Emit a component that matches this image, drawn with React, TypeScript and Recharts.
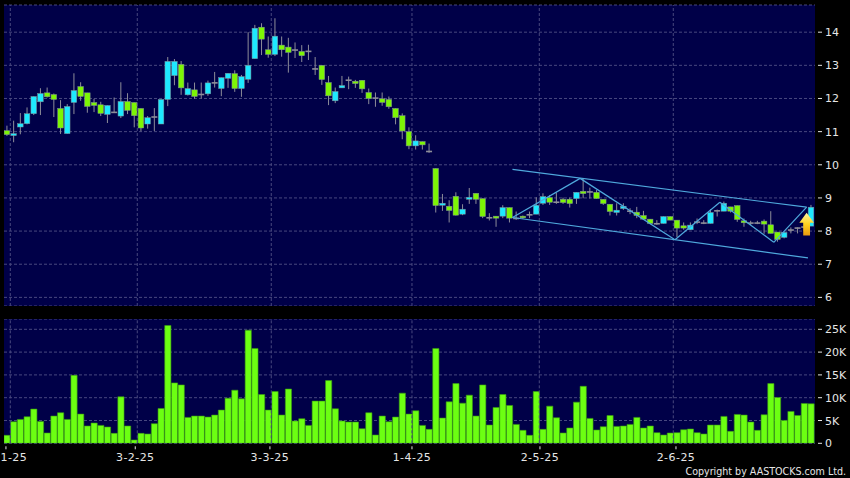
import { Bar, BarChart, CartesianGrid, ComposedChart, ReferenceDot, ReferenceLine, XAxis, YAxis } from "recharts";

const opens = [11.03,10.88,11.14,11.24,11.54,11.9,12.17,12.12,11.7,10.94,11.88,12.36,12.17,11.88,11.81,11.52,11.59,11.47,11.91,11.88,11.7,11.23,11.44,11.23,11.97,12.69,13.03,12.11,12.26,12.12,12.14,12.47,12.3,12.61,12.75,12.3,12.58,13.2,14.15,13.47,13.33,13.61,13.55,13.47,13.42,13.43,12.9,13.0,12.48,11.93,12.32,12.56,12.52,12.55,12.18,12.02,11.99,11.97,11.7,11.48,11.0,10.57,10.7,10.41,9.89,8.78,8.75,9.05,8.51,8.96,9.14,8.98,8.41,8.45,8.45,8.71,8.39,8.45,8.5,8.51,8.84,9.01,8.88,8.96,8.96,8.98,9.2,9.19,9.17,8.96,8.81,8.56,8.68,8.61,8.57,8.47,8.36,8.23,8.23,8.44,8.33,8.16,8.04,8.28,8.25,8.23,8.62,8.6,8.73,8.77,8.31,8.25,8.25,8.3,8.19,7.97,7.81,8.0,8.1,8.13,8.15];
const closes = [10.91,10.94,11.24,11.54,12.06,12.15,12.05,11.97,11.11,11.76,12.24,12.06,11.76,11.79,11.55,11.79,11.57,11.91,11.64,11.48,11.11,11.42,11.45,11.97,13.12,13.12,12.32,12.3,12.06,12.13,12.47,12.48,12.63,12.76,12.3,12.66,13.0,14.12,13.79,13.33,13.88,13.47,13.39,13.46,13.29,13.42,12.89,12.57,12.08,12.21,12.39,12.55,12.45,12.29,12.0,12.01,11.88,11.75,11.42,11.02,10.57,10.72,10.6,10.4,8.77,8.84,8.62,8.48,8.66,9.02,8.96,8.44,8.4,8.39,8.71,8.39,8.38,8.4,8.49,8.78,9.04,8.87,8.87,8.86,8.83,9.17,9.13,9.18,8.98,8.83,8.59,8.63,8.75,8.6,8.47,8.36,8.23,8.22,8.44,8.33,8.09,8.09,8.18,8.24,8.24,8.56,8.61,8.84,8.6,8.35,8.25,8.24,8.24,8.21,7.93,7.75,7.96,8.04,8.09,8.12,8.72];
const highs = [11.18,11.33,11.56,11.73,12.06,12.31,12.33,12.15,11.95,11.83,12.76,12.49,12.17,11.99,11.9,11.79,12.03,12.49,12.16,11.88,11.7,11.47,11.71,11.97,13.25,13.19,13.13,12.48,12.48,12.48,12.54,12.8,12.63,12.76,12.85,12.71,14.0,14.22,14.27,13.87,14.42,13.87,13.83,13.69,13.61,13.62,13.25,13.0,12.68,12.33,12.68,12.66,12.56,12.55,12.3,12.18,12.18,12.06,11.7,11.55,11.13,10.89,10.7,10.64,9.89,9.12,8.93,9.17,8.81,9.3,9.14,8.98,8.54,8.45,8.78,8.71,8.59,8.47,8.59,9.02,9.14,9.09,9.16,9.01,9.01,9.17,9.59,9.31,9.24,8.96,8.81,8.84,8.84,8.69,8.73,8.61,8.36,8.33,8.44,8.44,8.33,8.26,8.26,8.38,8.33,8.66,8.65,8.89,8.73,8.77,8.38,8.31,8.31,8.35,8.6,7.97,7.96,8.11,8.11,8.3,8.79];
const lows = [10.87,10.68,10.92,11.22,11.5,11.5,12.03,11.44,10.93,10.94,11.53,11.93,11.57,11.59,11.47,11.26,11.56,11.41,11.53,11.13,11.01,11.09,11.02,11.23,11.77,12.4,12.11,12.09,11.99,12.0,12.08,12.33,12.07,12.32,12.2,12.05,12.47,13.2,13.31,13.23,13.28,13.26,12.78,13.22,13.1,13.16,12.71,12.41,11.8,11.86,12.32,12.28,12.32,12.17,11.83,11.75,11.78,11.69,11.22,10.77,10.47,10.46,10.46,10.36,8.56,8.61,8.26,8.47,8.48,8.82,8.82,8.39,8.32,8.13,8.39,8.26,8.34,8.37,8.39,8.51,8.79,8.79,8.82,8.82,8.71,8.82,8.99,8.98,8.98,8.79,8.47,8.47,8.64,8.51,8.39,8.34,8.21,8.19,8.23,8.33,7.82,8.04,8.03,8.21,8.21,8.23,8.44,8.6,8.56,8.28,8.13,8.18,8.21,7.92,7.93,7.68,7.78,7.93,7.93,8.0,8.15];
const volumes = [1750,4730,5240,5820,7500,4800,2260,5970,6700,5240,14900,6400,3790,4440,3930,3570,2180,10200,3790,730,2180,2040,4300,7640,25840,13250,12800,5680,5970,5970,5750,6190,7280,9900,11650,9750,24800,20800,10700,7280,11350,6190,11900,4880,5390,3930,9250,9250,13760,7570,4880,4660,4660,3200,6700,1820,5970,4730,5750,11000,6400,7130,3930,3060,20800,5530,9100,13100,8800,10560,5970,12800,4000,7860,10700,8300,4150,2840,1750,11350,3060,8150,5600,2260,3350,9030,12500,5460,2910,3640,6100,3710,3790,4150,5680,3350,3790,2330,1820,2260,2330,2980,3130,2330,2040,4000,4000,5900,2620,6330,6190,4660,2840,6260,13100,10050,5020,6990,6100,8740,8660];

const dateLabels = ["1-25", "3-2-25", "3-3-25", "1-4-25", "2-5-25", "2-6-25"];
const dateTicks = [-0.2, 19.1, 39.2, 60.4, 79.5, 99.8];
const dateGrid = [0.45, 19.4, 39.4, 60.4, 79.4, 99.4];
const priceTicks = [6, 7, 8, 9, 10, 11, 12, 13, 14];
const volumeTicks = [0, 5000, 10000, 15000, 20000, 25000];

// drawn trend lines, as [index, price]
const zigzag = [[75.4, 8.41], [85.5, 9.59], [99.65, 7.74], [106.35, 8.87], [114.4, 7.66], [119.3, 8.72]];
const channelTop = [[75.4, 9.86], [119.3, 8.72]];
const channelBottom = [[75.4, 8.41], [119.5, 7.19]];
const arrowAt = [119.3, 8.25];

const candles = opens.map((open, i) => ({ i, open, close: closes[i], high: highs[i], low: lows[i] }));
const volumeRows = volumes.map((volume, i) => ({ i, volume }));

const NAVY = "#000048";
const GRID = "#48487f";
const LINE = "#4fa9dd";
const TEXT = "#e6e6e6";
const FONT = "'DejaVu Sans', sans-serif";
const X_DOMAIN = [-0.49, 120.55];

function Candle(props: any) {
  const { x, y, width, height, payload } = props;
  const perUnit = height / (payload.high - payload.low || 1);
  const topPrice = Math.max(payload.open, payload.close);
  const bottomPrice = Math.min(payload.open, payload.close);
  const bodyTop = y + (payload.high - topPrice) * perUnit;
  const bodyH = (topPrice - bottomPrice) * perUnit;
  const cx = x + width / 2;
  const doji = bodyH < 1.5;
  const fill = doji ? "#8d8d99" : payload.close > payload.open ? "#1ee9ff" : "#7df505";
  return (
    <g>
      <line x1={cx} x2={cx} y1={y} y2={y + height} stroke="#8d8d99" strokeWidth={1} />
      {doji ? (
        <rect x={x} y={bodyTop - 0.5} width={width} height={1.6} fill={fill} />
      ) : (
        <rect x={x + 0.2} y={bodyTop} width={width - 0.4} height={bodyH} fill={fill} stroke="#7f9096" strokeWidth={0.5} />
      )}
    </g>
  );
}

function Arrow(props: any) {
  const { cx, cy } = props;
  return (
    <g>
      <defs>
        <linearGradient id="arrowFill" x1="0" y1="0" x2="0" y2="1">
          <stop offset="0" stopColor="#fff7a0" />
          <stop offset="0.5" stopColor="#ffd21e" />
          <stop offset="1" stopColor="#e89a10" />
        </linearGradient>
      </defs>
      <polygon
        points={`${cx},${cy - 10} ${cx + 7.3},${cy} ${cx + 3.4},${cy} ${cx + 3.4},${cy + 12.7} ${cx - 3.4},${cy + 12.7} ${cx - 3.4},${cy} ${cx - 7.3},${cy}`}
        fill="url(#arrowFill)"
      />
    </g>
  );
}

function RightTick(props: any) {
  const { x, y, payload, format } = props;
  return (
    <g>
      <line x1={x + 3} x2={x + 7} y1={y} y2={y} stroke={TEXT} />
      <text x={x + 10} y={y + 4} fill={TEXT} fontSize={11} fontFamily={FONT}>
        {format ? format(payload.value) : payload.value}
      </text>
    </g>
  );
}

function DateTick(props: any) {
  const { x, y, payload } = props;
  const first = payload.value === dateTicks[0];
  return (
    <g>
      <line x1={x} x2={x} y1={y + 3} y2={y + 6} stroke={TEXT} />
      <text
        x={first ? 0.5 : x}
        y={y + 18}
        textAnchor={first ? "start" : "middle"}
        fill={TEXT}
        fontSize={11}
        letterSpacing={0.45}
        fontFamily={FONT}
      >
        {dateLabels[dateTicks.indexOf(payload.value)]}
      </text>
    </g>
  );
}

const volumeLabel = (v: number) => (v === 0 ? "0" : `${v / 1000}K`);

function segments(points: number[][]) {
  return points.slice(1).map((p, k) => [points[k], p]);
}

export default function App() {
  const trendLines = [...segments(zigzag), ...segments(channelTop), ...segments(channelBottom)];
  return (
    <div style={{ position: "absolute", left: 0, top: 0, width: 850, height: 478, background: "#000", overflow: "hidden" }}>
      <div style={{ position: "absolute", left: 0, top: 0 }}>
        <ComposedChart width={850} height={306} data={candles} margin={{ top: 5, right: 0, bottom: 0, left: 4 }}>
          <CartesianGrid fill={NAVY} fillOpacity={1} vertical={false} stroke={GRID} strokeDasharray="3 2" />
          <XAxis hide type="number" dataKey="i" domain={X_DOMAIN} allowDataOverflow />
          <YAxis
            orientation="right"
            width={35}
            domain={[5.74, 14.82]}
            allowDataOverflow
            ticks={priceTicks}
            interval={0}
            axisLine={false}
            tickLine={false}
            tickSize={0}
            tickMargin={0}
            tick={<RightTick />}
          />
          {dateGrid.map((x) => (
            <ReferenceLine key={x} x={x} stroke={GRID} strokeDasharray="3 2" />
          ))}
          <Bar dataKey={(d: any) => [d.low, d.high]} barSize={6} shape={<Candle />} isAnimationActive={false} />
          {trendLines.map(([a, b], k) => (
            <ReferenceLine
              key={k}
              segment={[{ x: a[0], y: a[1] }, { x: b[0], y: b[1] }]}
              stroke={LINE}
              strokeWidth={1.2}
            />
          ))}
          <ReferenceDot x={arrowAt[0]} y={arrowAt[1]} shape={<Arrow />} />
        </ComposedChart>
      </div>
      <div style={{ position: "absolute", left: 0, top: 319 }}>
        <BarChart width={850} height={159} data={volumeRows} margin={{ top: 0, right: 0, bottom: 0, left: 4 }}>
          <CartesianGrid fill={NAVY} fillOpacity={1} vertical={false} stroke={GRID} strokeDasharray="3 2" />
          <XAxis
            type="number"
            dataKey="i"
            domain={X_DOMAIN}
            allowDataOverflow
            height={34.7}
            ticks={dateTicks}
            interval={0}
            axisLine={false}
            tickLine={false}
            tickSize={0}
            tickMargin={0}
            tick={<DateTick />}
          />
          <YAxis
            orientation="right"
            width={35}
            domain={[0, 27260]}
            allowDataOverflow
            ticks={volumeTicks}
            interval={0}
            axisLine={false}
            tickLine={false}
            tickSize={0}
            tickMargin={0}
            tick={<RightTick format={volumeLabel} />}
          />
          {dateGrid.map((x) => (
            <ReferenceLine key={x} x={x} stroke={GRID} strokeDasharray="3 2" />
          ))}
          <Bar dataKey="volume" barSize={6.2} fill="#6cff12" stroke="#3a9c12" strokeWidth={0.6} isAnimationActive={false} />
        </BarChart>
      </div>
      <div
        style={{
          position: "absolute",
          right: 4,
          top: 464,
          color: TEXT,
          fontFamily: "'DejaVu Sans Condensed', 'DejaVu Sans', sans-serif",
          fontStretch: "condensed",
          fontSize: 10.6,
          lineHeight: "14px",
          whiteSpace: "nowrap",
        }}
      >
        Copyright by AASTOCKS.com Ltd.
      </div>
    </div>
  );
}
